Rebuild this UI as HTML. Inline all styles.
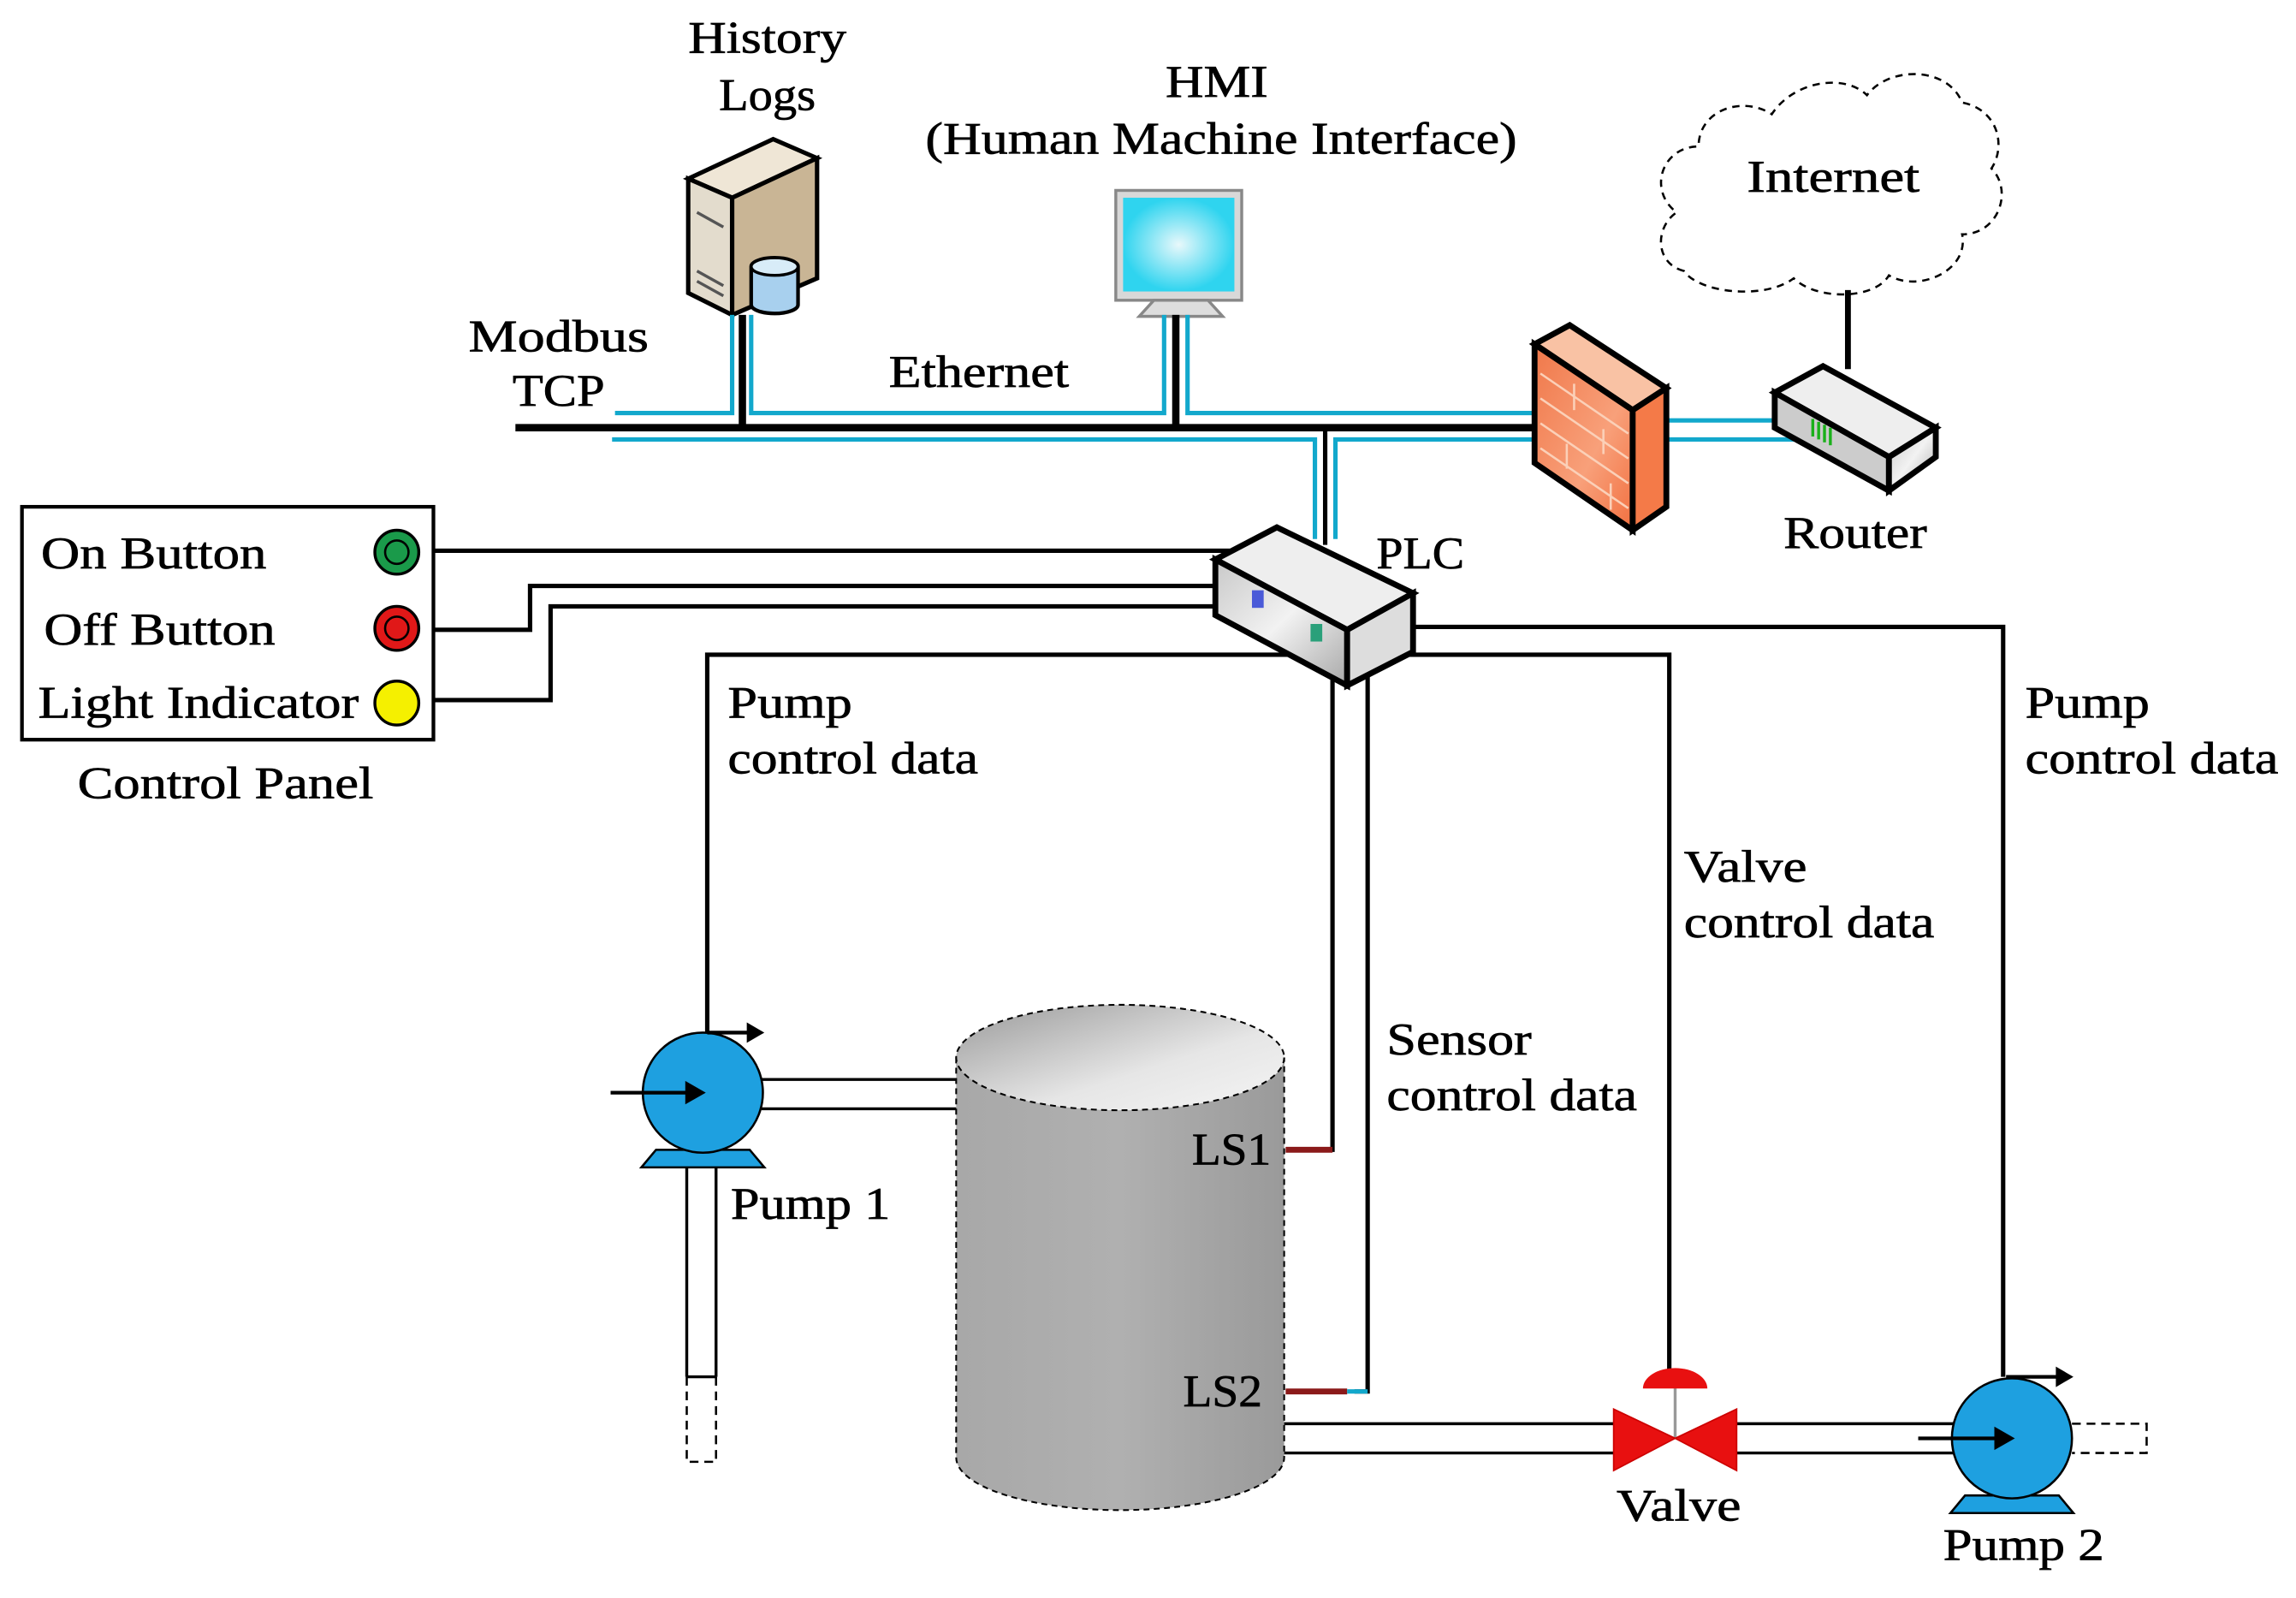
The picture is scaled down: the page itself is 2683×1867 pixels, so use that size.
<!DOCTYPE html>
<html><head><meta charset="utf-8"><style>
html,body{margin:0;padding:0;background:#fff;}
svg{display:block;}
text{font-family:"Liberation Serif",serif;font-size:31px;fill:#000;stroke:#000;stroke-width:0.4;}
</style></head><body>
<svg width="2683" height="1867" viewBox="0 0 1568 1091" preserveAspectRatio="none" xmlns="http://www.w3.org/2000/svg">
<defs>
<linearGradient id="tank" x1="0" x2="1"><stop offset="0" stop-color="#a8a8a8"/><stop offset="0.5" stop-color="#b0b0b0"/><stop offset="1" stop-color="#9a9a9a"/></linearGradient>
<linearGradient id="tanktop" x1="0" y1="0" x2="1" y2="1"><stop offset="0" stop-color="#9a9a9a"/><stop offset="0.6" stop-color="#e6e6e6"/><stop offset="1" stop-color="#f4f4f4"/></linearGradient>
<linearGradient id="fw" x1="0" y1="0" x2="1" y2="1"><stop offset="0" stop-color="#f0784a"/><stop offset="0.6" stop-color="#f8a07a"/><stop offset="1" stop-color="#f27040"/></linearGradient>
<linearGradient id="gry" x1="0" y1="0" x2="1" y2="1"><stop offset="0" stop-color="#c8c8c8"/><stop offset="0.5" stop-color="#f2f2f2"/><stop offset="1" stop-color="#a8a8a8"/></linearGradient>
<radialGradient id="scr"><stop offset="0" stop-color="#e8f8fb"/><stop offset="1" stop-color="#2fd4ef"/></radialGradient>
</defs>

<text x="470" y="36" textLength="108" lengthAdjust="spacingAndGlyphs">History</text>
<text x="491" y="75" textLength="66" lengthAdjust="spacingAndGlyphs">Logs</text>
<text x="796" y="66" textLength="70" lengthAdjust="spacingAndGlyphs">HMI</text>
<text x="632" y="105" textLength="404" lengthAdjust="spacingAndGlyphs">(Human Machine Interface)</text>
<text x="320" y="240" textLength="123" lengthAdjust="spacingAndGlyphs">Modbus</text>
<text x="350" y="277" textLength="63" lengthAdjust="spacingAndGlyphs">TCP</text>
<text x="607" y="264" textLength="123" lengthAdjust="spacingAndGlyphs">Ethernet</text>

<!-- server -->
<polygon points="470,122 528,95 558,108 500,135" fill="#efe6d6" stroke="#000" stroke-width="3"/>
<polygon points="470,122 500,135 500,215 470,200" fill="#e3dccd" stroke="#000" stroke-width="3"/>
<polygon points="500,135 558,108 558,190 500,215" fill="#c9b595" stroke="#000" stroke-width="3"/>
<line x1="476" y1="145" x2="494" y2="155" stroke="#555" stroke-width="2"/>
<line x1="476" y1="185" x2="494" y2="195" stroke="#555" stroke-width="2"/>
<line x1="476" y1="192" x2="494" y2="202" stroke="#555" stroke-width="2"/>
<path d="M513,182 v26 a16,6 0 0 0 32,0 v-26 a16,6 0 0 0 -32,0z" fill="#a8d0ee" stroke="#000" stroke-width="2.5"/>
<ellipse cx="529" cy="182" rx="16" ry="6" fill="#d8ecf8" stroke="#000" stroke-width="2"/>

<!-- monitor -->
<rect x="762" y="130" width="86" height="75" fill="#d8d8d8" stroke="#888" stroke-width="2"/>
<rect x="767" y="135" width="76" height="64" fill="url(#scr)"/>
<polygon points="788,205 825,205 835,216 778,216" fill="#ddd" stroke="#888" stroke-width="2"/>

<!-- cloud -->
<path d="M1150,185 C1130,180 1130,155 1145,145 C1125,130 1135,100 1160,100 C1160,75 1190,65 1210,78 C1225,55 1260,50 1275,65 C1290,45 1330,45 1340,70 C1365,75 1370,100 1360,115 C1375,130 1365,160 1340,160 C1345,185 1310,200 1290,188 C1280,205 1240,205 1225,190 C1205,205 1160,200 1150,185Z" fill="#fff" stroke="#000" stroke-width="1.5" stroke-dasharray="5,4"/>
<text x="1193" y="131" textLength="118" lengthAdjust="spacingAndGlyphs">Internet</text>
<line x1="1262" y1="198" x2="1262" y2="252" stroke="#000" stroke-width="4"/>

<g fill="none" stroke="#12a8cc" stroke-width="3">
<path d="M420,282 H500 V215"/>
<path d="M513,215 V282 H795 V215"/>
<path d="M811,215 V282 H1050"/>
<path d="M418,300 H898 V368"/>
<path d="M912,368 V300 H1050"/>
<path d="M1136,287 H1220"/>
<path d="M1136,300 H1228"/>
</g>
<g stroke="#000" stroke-width="5">
<line x1="352" y1="292" x2="1050" y2="292"/>
<line x1="507" y1="215" x2="507" y2="292"/>
<line x1="803" y1="215" x2="803" y2="292"/>
</g>
<line x1="905" y1="292" x2="905" y2="372" stroke="#000" stroke-width="3"/>

<!-- firewall -->
<polygon points="1048,235 1072,222 1138,265 1115,280" fill="#f9c2a4" stroke="#000" stroke-width="4"/>
<polygon points="1048,235 1115,280 1115,362 1048,316" fill="url(#fw)" stroke="#000" stroke-width="4"/>
<polygon points="1115,280 1138,265 1138,346 1115,362" fill="#f47a48" stroke="#000" stroke-width="4"/>
<g stroke="#fbd0b8" stroke-width="1.5">
<line x1="1052" y1="255" x2="1112" y2="296"/><line x1="1052" y1="272" x2="1112" y2="313"/>
<line x1="1052" y1="289" x2="1112" y2="330"/><line x1="1052" y1="306" x2="1112" y2="347"/>
<line x1="1075" y1="262" x2="1075" y2="280"/><line x1="1095" y1="293" x2="1095" y2="310"/>
<line x1="1070" y1="303" x2="1070" y2="320"/><line x1="1100" y1="330" x2="1100" y2="348"/>
</g>

<!-- router -->
<polygon points="1212,268 1245,250 1322,292 1290,312" fill="#eee" stroke="#000" stroke-width="4"/>
<polygon points="1212,268 1290,312 1290,335 1212,292" fill="#ccc" stroke="#000" stroke-width="4"/>
<polygon points="1290,312 1322,292 1322,312 1290,335" fill="url(#gry)" stroke="#000" stroke-width="4"/>
<g stroke="#1ab01a" stroke-width="2"><line x1="1238" y1="286" x2="1238" y2="298"/><line x1="1242" y1="288" x2="1242" y2="300"/><line x1="1246" y1="290" x2="1246" y2="302"/><line x1="1250" y1="292" x2="1250" y2="304"/></g>
<text x="1218" y="374" textLength="98" lengthAdjust="spacingAndGlyphs">Router</text>

<!-- control panel -->
<rect x="15" y="346" width="281" height="159" fill="#fff" stroke="#000" stroke-width="2.5"/>
<text x="28" y="388" textLength="154" lengthAdjust="spacingAndGlyphs">On Button</text>
<text x="30" y="440" textLength="158" lengthAdjust="spacingAndGlyphs">Off Button</text>
<text x="26" y="490" textLength="219" lengthAdjust="spacingAndGlyphs">Light Indicator</text>
<circle cx="271" cy="377" r="15" fill="#1a9a4a" stroke="#000" stroke-width="2"/><circle cx="271" cy="377" r="8" fill="none" stroke="#000" stroke-width="1.5"/>
<circle cx="271" cy="429" r="15" fill="#e01818" stroke="#000" stroke-width="2"/><circle cx="271" cy="429" r="8" fill="none" stroke="#000" stroke-width="1.5"/>
<circle cx="271" cy="480" r="15" fill="#f5f000" stroke="#000" stroke-width="2"/>
<text x="53" y="545" textLength="202" lengthAdjust="spacingAndGlyphs">Control Panel</text>

<g fill="none" stroke="#000" stroke-width="3">
<path d="M296,376 H840"/>
<path d="M296,430 H362 V400 H835"/>
<path d="M296,478 H376 V414 H835"/>
<path d="M880,447 H483 V705"/>
<path d="M960,447 H1140 V940"/>
<path d="M960,428 H1368 V940"/>
<path d="M910,460 V785 H895"/>
<path d="M934,460 V950 H925"/>
</g>
<line x1="878" y1="785" x2="910" y2="785" stroke="#8b1a1a" stroke-width="4"/>
<line x1="878" y1="950" x2="920" y2="950" stroke="#8b1a1a" stroke-width="4"/>
<line x1="920" y1="950" x2="934" y2="950" stroke="#12a8cc" stroke-width="3"/>

<!-- PLC -->
<polygon points="830,382 872,360 965,405 920,430" fill="#eee" stroke="#000" stroke-width="4"/>
<polygon points="830,382 920,430 920,468 830,420" fill="url(#gry)" stroke="#000" stroke-width="4"/>
<polygon points="920,430 965,405 965,445 920,468" fill="#ddd" stroke="#000" stroke-width="4"/>
<rect x="855" y="403" width="8" height="12" fill="#4a5ad8"/>
<rect x="895" y="426" width="8" height="12" fill="#2aa07a"/>
<text x="940" y="388" textLength="60" lengthAdjust="spacingAndGlyphs">PLC</text>

<text x="497" y="490" textLength="85" lengthAdjust="spacingAndGlyphs">Pump</text><text x="497" y="528" textLength="171" lengthAdjust="spacingAndGlyphs">control data</text>
<text x="1383" y="490" textLength="85" lengthAdjust="spacingAndGlyphs">Pump</text><text x="1383" y="528" textLength="173" lengthAdjust="spacingAndGlyphs">control data</text>
<text x="1150" y="602" textLength="84" lengthAdjust="spacingAndGlyphs">Valve</text><text x="1150" y="640" textLength="171" lengthAdjust="spacingAndGlyphs">control data</text>
<text x="947" y="720" textLength="99" lengthAdjust="spacingAndGlyphs">Sensor</text><text x="947" y="758" textLength="171" lengthAdjust="spacingAndGlyphs">control data</text>

<!-- tank -->
<path d="M653,722 V995 A112,36 0 0 0 877,995 V722Z" fill="url(#tank)"/>
<path d="M653,722 V995 A112,36 0 0 0 877,995 V722" fill="none" stroke="#000" stroke-width="1.2" stroke-dasharray="4,3"/>
<ellipse cx="765" cy="722" rx="112" ry="36" fill="url(#tanktop)" stroke="#000" stroke-width="1.2" stroke-dasharray="4,3"/>
<text x="814" y="795" textLength="54" lengthAdjust="spacingAndGlyphs">LS1</text>
<text x="808" y="960" textLength="54" lengthAdjust="spacingAndGlyphs">LS2</text>

<g fill="none" stroke="#000" stroke-width="2">
<path d="M520,737 H653 M520,757 H653"/>
<path d="M469,797 V940 M489,797 V940 M469,940 H489"/>
<path d="M877,972 H1105 M877,992 H1105"/>
<path d="M1185,972 H1340 M1185,992 H1340"/>
</g>
<g fill="none" stroke="#000" stroke-width="1.5" stroke-dasharray="6,4">
<path d="M469,940 V998 H489 V940"/>
<path d="M1415,972 H1466 V992 H1415"/>
</g>

<!-- pump1 -->
<polygon points="448,785 512,785 522,797 438,797" fill="#1ea0e0" stroke="#000" stroke-width="1.5"/>
<circle cx="480" cy="746" r="41" fill="#1ea0e0" stroke="#000" stroke-width="1.5"/>
<line x1="417" y1="746" x2="470" y2="746" stroke="#000" stroke-width="2.5"/>
<polygon points="468,738 482,746 468,754" fill="#000"/>
<line x1="483" y1="705" x2="512" y2="705" stroke="#000" stroke-width="2.5"/>
<polygon points="510,698 522,705 510,712" fill="#000"/>
<text x="499" y="832" textLength="109" lengthAdjust="spacingAndGlyphs">Pump 1</text>

<!-- valve -->
<line x1="1144" y1="945" x2="1144" y2="982" stroke="#999" stroke-width="2"/>
<path d="M1122,948 A22,14 0 0 1 1166,948Z" fill="#e81010"/>
<polygon points="1102,962 1144,982 1102,1004" fill="#e81010" stroke="#c00" stroke-width="1"/>
<polygon points="1186,962 1144,982 1186,1004" fill="#e81010" stroke="#c00" stroke-width="1"/>
<text x="1104" y="1038" textLength="85" lengthAdjust="spacingAndGlyphs">Valve</text>

<!-- pump2 -->
<polygon points="1342,1021 1406,1021 1416,1033 1332,1033" fill="#1ea0e0" stroke="#000" stroke-width="1.5"/>
<circle cx="1374" cy="982" r="41" fill="#1ea0e0" stroke="#000" stroke-width="1.5"/>
<line x1="1310" y1="982" x2="1364" y2="982" stroke="#000" stroke-width="2.5"/>
<polygon points="1362,974 1376,982 1362,990" fill="#000"/>
<line x1="1370" y1="940" x2="1406" y2="940" stroke="#000" stroke-width="2.5"/>
<polygon points="1404,933 1416,940 1404,947" fill="#000"/>
<text x="1327" y="1065" textLength="110" lengthAdjust="spacingAndGlyphs">Pump 2</text>
</svg>
</body></html>
